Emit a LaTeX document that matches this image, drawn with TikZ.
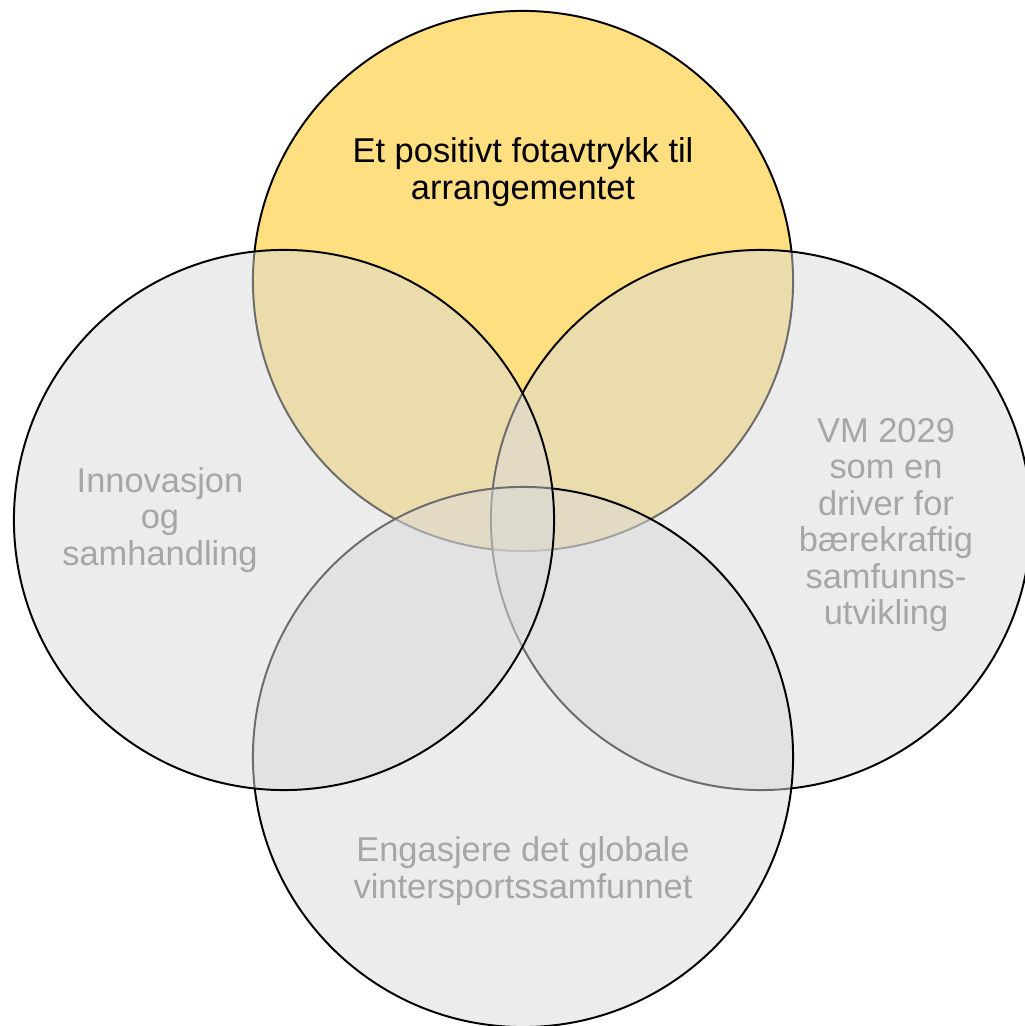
\documentclass[tikz,border=0pt]{standalone}
\usepackage{fontspec}
\setmainfont{Liberation Sans}
\definecolor{gold}{HTML}{FFC000}
\definecolor{lightgrey}{HTML}{D9D9D9}
\definecolor{labelgrey}{HTML}{A6A6A6}
\tikzset{
  ring/.style={circle, draw=black, line width=1.4pt, fill opacity=0.5, minimum size=13.5cm},
  ringlabel/.style={align=center, font=\fontsize{24.5}{26}\selectfont, text=labelgrey}
}
\begin{document}
\begin{tikzpicture}[x=0.025cm, y=0.025cm]
    % Page frame, same proportions as the reference
    \useasboundingbox (0,0) rectangle (1025,1026);

    % Circles, drawn top, right, bottom, left so that later fills cover earlier borders
    \node[ring, fill=gold] (top) at (523,745) {};
    \node[ring, fill=lightgrey] (right) at (761,506) {};
    \node[ring, fill=lightgrey] (bottom) at (523,269) {};
    \node[ring, fill=lightgrey] (left) at (284,506) {};

    % Labels
    \node[ringlabel, text=black] (toplabel) at (523,854) {Et positivt fotavtrykk til\\arrangementet};
    \node[ringlabel] (leftlabel) at (160,506) {Innovasjon\\og\\samhandling};
    \node[ringlabel] (rightlabel) at (886,501) {VM 2029\\som en\\driver for\\bærekraftig\\samfunns-\\utvikling};
    \node[ringlabel] (bottomlabel) at (523,155) {Engasjere det globale\\vintersportssamfunnet};
\end{tikzpicture}
\end{document}
